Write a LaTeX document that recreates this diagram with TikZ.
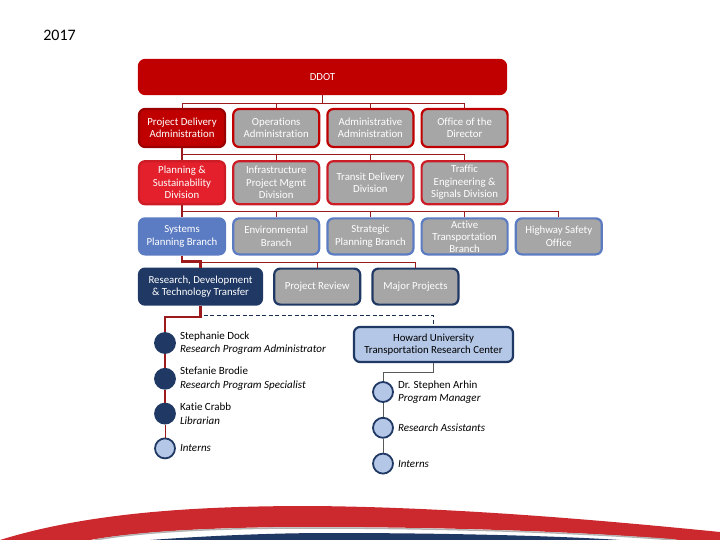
\documentclass[tikz,border=0pt]{standalone}
\usepackage{fontspec}
\setmainfont{Carlito}[Ligatures=NoCommon]
\usetikzlibrary{positioning,calc}
\definecolor{DarkRed}{HTML}{C00000}
\definecolor{LineRed}{HTML}{9C1A1C}
\definecolor{BrightRed}{HTML}{E3202B}
\definecolor{SwooshRed}{HTML}{CC292F}
\definecolor{MidBlue}{HTML}{5B7BC2}
\definecolor{Navy}{HTML}{1F3864}
\definecolor{BoxGray}{HTML}{A6A6A6}
\definecolor{PaleBlue}{HTML}{B4C7E7}
\definecolor{LineGray}{HTML}{595959}
\tikzset{
  orgbox/.style={
    rectangle, rounded corners=6pt, line width=2.2pt, fill=BoxGray,
    minimum width=86pt, inner sep=0pt, align=center, text=white,
    font={\fontsize{10.8}{12.5}\selectfont}
  },
  rowone/.style={orgbox, draw=DarkRed, minimum height=38pt},
  rowtwo/.style={orgbox, draw=BrightRed!90!black, minimum height=43pt},
  rowthree/.style={orgbox, draw=MidBlue, minimum height=36pt},
  rowfour/.style={orgbox, draw=Navy, minimum height=36pt},
  branchline/.style={LineRed, line width=1pt},
  trunkline/.style={LineRed, line width=2.2pt},
  dashline/.style={Navy!80!black, line width=1.2pt, dash pattern=on 4pt off 2.5pt},
  grayline/.style={LineGray, line width=1pt},
  staffdot/.style={circle, draw=Navy, fill=Navy, line width=1.8pt, minimum size=20pt, inner sep=0pt},
  internsdot/.style={staffdot, fill=PaleBlue},
  stafflabel/.style={align=left, inner sep=0pt, font={\fontsize{11}{13.5}\selectfont}},
}
\begin{document}
\begin{tikzpicture}[x=1pt, y=-1pt, node distance=6pt]
    \useasboundingbox (0,0) rectangle (720,540);
    \node[font=\fontsize{16}{18}\selectfont] (year) at (59.5,35) {2017};

    \node[orgbox, fill=DarkRed, draw=DarkRed, minimum width=367pt, minimum height=34pt] (ddot) at (322.5,77) {DDOT};

    \node[rowone, fill=DarkRed, draw=DarkRed!80!black] (pd) at (182,128) {Project Delivery\\Administration};
    \node[rowone, right=of pd] (ops) {Operations\\Administration};
    \node[rowone, right=of ops] (adm) {Administrative\\Administration};
    \node[rowone, right=of adm] (off) {Office of the\\Director};

    \node[rowtwo, fill=BrightRed, below=12pt of pd] (plan) {Planning \&\\Sustainability\\Division};
    \node[rowtwo, right=of plan] (infra) {Infrastructure\\Project Mgmt\\Division};
    \node[rowtwo, right=of infra] (transit) {Transit Delivery\\Division};
    \node[rowtwo, right=of transit] (traffic) {Traffic\\Engineering \&\\Signals Division};

    \node[rowthree, fill=MidBlue, below=12pt of plan] (sys) {Systems\\Planning Branch};
    \node[rowthree, right=of sys] (env) {Environmental\\Branch};
    \node[rowthree, right=of env] (strat) {Strategic\\Planning Branch};
    \node[rowthree, right=of strat] (active) {Active\\[-0.5pt]Transportation\\[-0.5pt]Branch};
    \node[rowthree, right=of active] (hwy) {Highway Safety\\Office};

    \node[rowfour, fill=Navy, minimum width=123pt, below right=12pt and 0pt of sys.south west] (rd) {Research, Development\\\& Technology Transfer};
    \node[rowfour, right=10pt of rd] (rev) {Project Review};
    \node[rowfour, right=10pt of rev] (major) {Major Projects};

    \node[orgbox, fill=PaleBlue, draw=Navy, text=black, minimum width=159pt, minimum height=35pt] (howard) at (433.5,344.5) {Howard University\\Transportation Research Center};

    \node[staffdot] (dock) at (165,343) {};
    \node[staffdot, below=14pt of dock] (brodie) {};
    \node[staffdot, below=13pt of brodie] (crabb) {};
    \node[internsdot, below=13pt of crabb] (lint) {};
    \node[stafflabel, right=4pt of dock] (dockname) {Stephanie Dock\\\textit{Research Program Administrator}};
    \node[stafflabel, right=4pt of brodie] (brodiename) {Stefanie Brodie\\\textit{Research Program Specialist}};
    \node[stafflabel, right=4pt of crabb] (crabbname) {Katie Crabb\\\textit{Librarian}};
    \node[stafflabel, right=4pt of lint] (lintname) {\textit{Interns}};

    \node[internsdot] (arhin) at (383,392) {};
    \node[internsdot, below=14pt of arhin] (ra) {};
    \node[internsdot, below=14pt of ra] (hint) {};
    \node[stafflabel, right=4pt of arhin] (arhinname) {Dr. Stephen Arhin\\\textit{Program Manager}};
    \node[stafflabel, right=4pt of ra] (raname) {\textit{Research Assistants}};
    \node[stafflabel, right=4pt of hint] (hintname) {\textit{Interns}};

    \coordinate (busA) at ($(ddot.south)+(0,8)$);
    \draw[branchline] (ddot.south) -- (busA);
    \foreach \c in {pd,ops,adm,off} \draw[branchline] (\c.north) |- (busA);

    \coordinate (busB) at ($(pd.south)+(0,6)$);
    \draw[trunkline] (pd.south) -- (plan.north);
    \foreach \c in {infra,transit,traffic} \draw[branchline] (\c.north) |- (busB);

    \coordinate (busC) at ($(plan.south)+(0,6)$);
    \draw[trunkline] (plan.south) -- (sys.north);
    \foreach \c in {env,strat,active,hwy} \draw[branchline] (\c.north) |- (busC);

    \draw[trunkline] (sys.south) -- ++(0,6) -| (rd.north);
    \coordinate (busD) at ($(rd.north)+(0,-5)$);
    \foreach \c in {rev,major} \draw[branchline] (\c.north) |- (busD);

    \draw[trunkline] (rd.south) -- ++(0,11) -| (dock.north);
    \draw[trunkline] (dock) -- (brodie);
    \draw[trunkline] (brodie) -- (crabb);
    \draw[branchline] (crabb) -- (lint);
    \draw[dashline] ($(rd.south)+(3,10)$) -| (howard.north);

    \draw[grayline] (howard.south) -- ++(0,9) -| (arhin.north);
    \draw[grayline] (arhin) -- (ra);
    \draw[grayline] (ra) -- (hint);

    \fill[SwooshRed] (0,540) .. controls (90,512) and (200,506) .. (310,506)
      .. controls (450,507) and (600,520) .. (720,532) -- (720,540) -- (680,540)
      .. controls (560,530) and (420,527) .. (310,527)
      .. controls (200,527) and (130,533) .. (90,540) -- cycle;
    \draw[gray!60, line width=1.5pt] (95,540) .. controls (135,533) and (200,528) .. (310,528)
      .. controls (420,528) and (560,531) .. (675,540);
    \fill[Navy] (150,540) .. controls (220,535) and (280,533) .. (330,533)
      .. controls (450,533) and (560,536) .. (620,540) -- cycle;
\end{tikzpicture}
\end{document}
